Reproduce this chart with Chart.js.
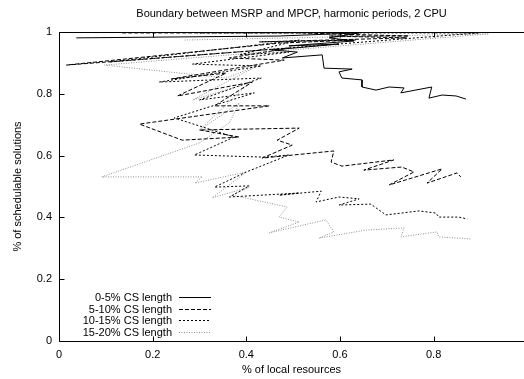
<!DOCTYPE html>
<html>
<head>
<meta charset="utf-8">
<script src="https://cdn.jsdelivr.net/npm/chart.js@4.4.0/dist/chart.umd.min.js"></script>
<style>
  html, body { margin: 0; padding: 0; background: #fff; }
</style>
</head>
<body>
<canvas id="chart" width="524" height="379"></canvas>
<script>
'use strict';

const chartTitle = 'Boundary between MSRP and MPCP, harmonic periods, 2 CPU';
const xTitle = '% of local resources';
const yTitle = '% of schedulable solutions';
const seriesNames = ['0-5% CS length', '5-10% CS length', '10-15% CS length', '15-20% CS length'];
const xTicks = [0, 0.2, 0.4, 0.6, 0.8];
const yTicks = [0, 0.2, 0.4, 0.6, 0.8, 1];

// 0-5% CS length
const cs05X = [0.037, 0.470, 0.641, 0.577, 0.630, 0.491, 0.598, 0.455, 0.509, 0.477, 0.562, 0.566, 0.626,
  0.598, 0.604, 0.647, 0.647, 0.677, 0.705, 0.737, 0.730, 0.796, 0.790, 0.818, 0.848, 0.869];
const cs05Y = [0.981, 0.987, 0.997, 0.981, 0.971, 0.955, 0.961, 0.942, 0.935, 0.916, 0.926, 0.883, 0.880,
  0.871, 0.851, 0.845, 0.822, 0.812, 0.822, 0.819, 0.803, 0.822, 0.786, 0.796, 0.793, 0.783];

// 5-10% CS length
const cs10X = [0.135, 0.513, 0.747, 0.577, 0.743, 0.428, 0.634, 0.470, 0.016, 0.491, 0.364, 0.481, 0.240,
  0.357, 0.253, 0.413, 0.332, 0.449, 0.172, 0.263, 0.385, 0.300, 0.513, 0.466, 0.498, 0.434, 0.587, 0.581,
  0.604, 0.715, 0.651, 0.732, 0.758, 0.705, 0.818, 0.786, 0.850, 0.858];
const cs10Y = [0.997, 0.997, 0.987, 0.987, 0.981, 0.968, 0.974, 0.964, 0.893, 0.948, 0.916, 0.909, 0.848,
  0.867, 0.793, 0.838, 0.761, 0.761, 0.702, 0.650, 0.660, 0.683, 0.689, 0.650, 0.634, 0.592, 0.615, 0.579,
  0.566, 0.586, 0.553, 0.563, 0.547, 0.505, 0.557, 0.511, 0.544, 0.531];

// 10-15% CS length
const cs15X = [0.300, 0.897, 0.108, 0.513, 0.385, 0.491, 0.285, 0.432, 0.214, 0.432, 0.300, 0.417, 0.246,
  0.374, 0.289, 0.438, 0.491, 0.400, 0.332, 0.406, 0.364, 0.513, 0.470, 0.560, 0.549, 0.598, 0.641, 0.598,
  0.666, 0.698, 0.769, 0.805, 0.811, 0.854, 0.872];
const cs15Y = [0.997, 0.997, 0.903, 0.974, 0.926, 0.935, 0.896, 0.890, 0.838, 0.851, 0.780, 0.803, 0.722,
  0.660, 0.602, 0.595, 0.602, 0.547, 0.498, 0.502, 0.466, 0.479, 0.472, 0.485, 0.450, 0.466, 0.460, 0.440,
  0.443, 0.408, 0.421, 0.414, 0.401, 0.401, 0.395];

// 15-20% CS length
const cs20X = [0.268, 0.918, 0.097, 0.357, 0.423, 0.285, 0.406, 0.300, 0.385, 0.364, 0.300, 0.091, 0.306,
  0.290, 0.400, 0.327, 0.406, 0.370, 0.487, 0.470, 0.513, 0.449, 0.570, 0.587, 0.555, 0.656, 0.737, 0.730,
  0.807, 0.811, 0.880];
const cs20Y = [0.974, 0.994, 0.893, 0.851, 0.890, 0.780, 0.835, 0.683, 0.770, 0.706, 0.641, 0.531, 0.531,
  0.511, 0.547, 0.463, 0.498, 0.472, 0.434, 0.401, 0.385, 0.350, 0.392, 0.353, 0.333, 0.359, 0.366, 0.337,
  0.353, 0.337, 0.330];

const FONT = '"Liberation Sans", Arial, Helvetica, sans-serif';
Chart.defaults.font.family = FONT;
Chart.defaults.font.size = 11;
Chart.defaults.color = '#000';

const styles = [
  { color: '#000', dash: [] },
  { color: '#000', dash: [4, 2] },
  { color: '#000', dash: [2, 2] },
  { color: '#8f8f8f', dash: [1, 1.5] },
];

function pts(xs, ys) {
  return xs.map((x, i) => ({ x, y: ys[i] }));
}

const allSeries = [pts(cs05X, cs05Y), pts(cs10X, cs10Y), pts(cs15X, cs15Y), pts(cs20X, cs20Y)];

// border, inward ticks, title and gnuplot-style legend
const framePlugin = {
  id: 'frame',
  afterDatasetsDraw(chart) {
    const { ctx, chartArea: a, scales: { x, y } } = chart;
    const L = Math.round(a.left) + 0.5;
    const T = Math.round(a.top) + 0.5;
    const B = Math.round(a.bottom) + 0.5;
    const R = a.right;
    ctx.save();
    ctx.strokeStyle = '#000';
    ctx.lineWidth = 1;
    ctx.setLineDash([]);
    ctx.beginPath();
    ctx.moveTo(R, T); ctx.lineTo(L, T); ctx.lineTo(L, B); ctx.lineTo(R, B);
    xTicks.forEach(v => {
      const px = Math.round(x.getPixelForValue(v)) + 0.5;
      ctx.moveTo(px, B); ctx.lineTo(px, B - 5);
      ctx.moveTo(px, T); ctx.lineTo(px, T + 5);
    });
    yTicks.forEach(v => {
      const py = Math.round(y.getPixelForValue(v)) + 0.5;
      ctx.moveTo(L, py); ctx.lineTo(L + 5, py);
    });
    ctx.stroke();

    ctx.fillStyle = '#000';
    ctx.font = '11px ' + FONT;
    ctx.textAlign = 'center';
    ctx.textBaseline = 'middle';
    ctx.fillText(chartTitle, (a.left + a.right) / 2, 14);

    // legend, lower left inside the plot
    ctx.textAlign = 'right';
    seriesNames.forEach((name, i) => {
      const ly = Math.round(a.bottom - 44 + i * 11.5) + 0.5;
      ctx.fillStyle = '#000';
      ctx.fillText(name, a.left + 113, ly);
      ctx.strokeStyle = styles[i].color;
      ctx.setLineDash(styles[i].dash);
      ctx.beginPath();
      ctx.moveTo(a.left + 120, ly);
      ctx.lineTo(a.left + 152, ly);
      ctx.stroke();
    });
    ctx.restore();
  },
};

new Chart(document.getElementById('chart'), {
  type: 'scatter',
  data: {
    datasets: allSeries.map((data, i) => ({
      label: seriesNames[i],
      data,
      showLine: true,
      borderColor: styles[i].color,
      borderDash: styles[i].dash,
      borderWidth: 1,
      pointRadius: 0,
      tension: 0,
      fill: false,
    })),
  },
  options: {
    responsive: false,
    animation: false,
    devicePixelRatio: 1,
    layout: { padding: { top: 32, right: 0, bottom: 0, left: 0 } },
    plugins: {
      legend: { display: false },
      title: { display: false },
      tooltip: { enabled: false },
    },
    scales: {
      x: {
        type: 'linear',
        min: 0,
        max: 0.993,
        afterBuildTicks: (s) => { s.ticks = xTicks.map(v => ({ value: v })); },
        afterFit: (s) => { s.height = 38; },
        ticks: { padding: 7, callback: (v) => String(v) },
        grid: { display: false, drawTicks: false },
        border: { display: false },
        title: { display: true, text: xTitle, padding: { top: 0, bottom: 2 } },
      },
      y: {
        type: 'linear',
        min: 0,
        max: 1,
        afterBuildTicks: (s) => { s.ticks = yTicks.map(v => ({ value: v })); },
        afterFit: (s) => { s.width = 59; },
        ticks: { padding: 7, callback: (v) => String(v) },
        grid: { display: false, drawTicks: false },
        border: { display: false },
        title: { display: true, text: yTitle, padding: { top: 11, bottom: 0 } },
      },
    },
  },
  plugins: [framePlugin],
});
</script>
</body>
</html>
